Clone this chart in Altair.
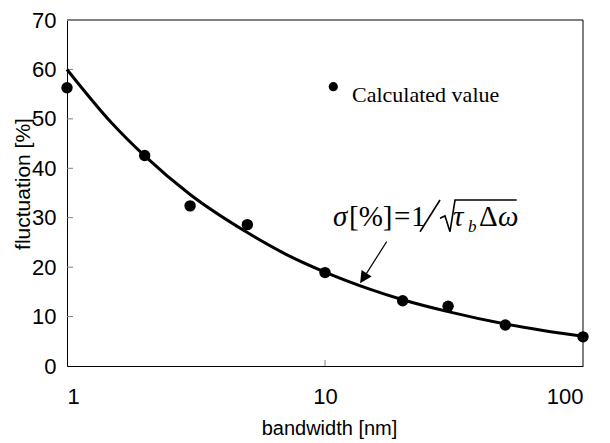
import altair as alt
import pandas as pd

# ---- data ----
bandwidth = [1, 2, 3, 5, 10, 20, 30, 50, 100]
calculated = [56.3, 42.6, 32.4, 28.6, 18.9, 13.2, 12.1, 8.3, 5.9]

curve_bw = [1, 1.5, 2, 3, 5, 7, 10, 15, 20, 30, 50, 70, 100]
curve_val = [60.0, 49.0, 42.5, 34.7, 27.0, 22.7, 19.0, 15.5, 13.4, 11.0, 8.5, 7.2, 6.0]

x_tick_values = [1, 10, 100]
y_tick_values = [0, 10, 20, 30, 40, 50, 60, 70]
inner_y_ticks = [10, 20, 30, 40, 50, 60]
inner_x_ticks = [10]

legend_label = "Calculated value"

W, H = 516, 346
xscale = alt.Scale(type="log", domain=[1, 100], nice=False)
yscale = alt.Scale(domain=[0, 70], nice=False)


def X(field="bw"):
    return alt.X(f"{field}:Q", scale=xscale,
                 axis=alt.Axis(values=x_tick_values, format="d", title="bandwidth [nm]",
                               titleX=262, titleY=68, titleBaseline="alphabetic",
                               titleAlign="center", labelPadding=20))


def Y(field="val"):
    return alt.Y(f"{field}:Q", scale=yscale,
                 axis=alt.Axis(values=y_tick_values, title="fluctuation [%]",
                               titleX=-38, titleY=163.5, titleAngle=-90,
                               titleBaseline="alphabetic", titleAlign="center",
                               labelPadding=11))


pts = pd.DataFrame({"bw": bandwidth, "val": calculated})
curve = pd.DataFrame({"bw": curve_bw, "val": curve_val})

line = alt.Chart(curve).mark_line(color="black", strokeWidth=3, interpolate="monotone").encode(
    x=X(), y=Y())
dots = alt.Chart(pts).mark_point(filled=True, color="black", opacity=1, size=130).encode(
    x=X(), y=Y())

# inward ticks
yt = alt.Chart(pd.DataFrame({"val": inner_y_ticks})).mark_rule(color="#808080", strokeWidth=1).encode(
    y=Y(), x=alt.value(0), x2=alt.value(6))
xt = alt.Chart(pd.DataFrame({"bw": inner_x_ticks})).mark_rule(color="#808080", strokeWidth=1).encode(
    x=X(), y=alt.value(H), y2=alt.value(H - 6))

one = pd.DataFrame({"k": [0]})
top_border = alt.Chart(one).mark_rule(color="#808080", strokeWidth=2).encode(
    x=alt.value(0), x2=alt.value(W), y=alt.value(0))
right_border = alt.Chart(one).mark_rule(color="black", strokeWidth=1).encode(
    x=alt.value(W), y=alt.value(0), y2=alt.value(H))

# legend (point + label)
leg_pt = alt.Chart(pd.DataFrame({"bw": [10.77], "val": [56.5]})).mark_point(
    filled=True, color="black", opacity=1, size=85).encode(x=X(), y=Y())
leg_tx = alt.Chart(pd.DataFrame({"bw": [12.73], "val": [53.5], "t": [legend_label]})).mark_text(
    align="left", baseline="alphabetic", font="Liberation Serif", fontSize=22, color="black").encode(
    x=X(), y=Y(), text="t:N")

# arrow
arrow_line = alt.Chart(pd.DataFrame({"bw": [17.34], "val": [25.15], "bw2": [14.08], "val2": [17.74]})).mark_rule(
    color="black", strokeWidth=1.2).encode(x=X(), y=Y(), x2="bw2:Q", y2="val2:Q")
arrow_head = alt.Chart(pd.DataFrame({"bw": [14.08], "val": [17.74]})).mark_point(
    shape="M0,-1L1,1L-1,1Z", filled=True, color="black", opacity=1, angle=213, size=144).encode(
    x=X(), y=Y())

# formula  sigma[%] = 1 / sqrt(tau_b Delta omega)
anchor = pd.DataFrame({"bw": [10.74], "val": [28.32]})
def ftext(s, dx, italic=False, size=29, dy=0):
    return alt.Chart(anchor.assign(t=s)).mark_text(
        align="left", baseline="alphabetic", font="Liberation Serif", fontSize=size,
        fontStyle="italic" if italic else "normal", color="black", dx=dx, dy=dy).encode(
        x=X(), y=Y(), text="t:N")

f_sigma = ftext("σ", 0, italic=True)
f_br = ftext("[%]", 16)
f_eq = ftext("=", 61)
f_one = ftext("1", 78)
f_tau = ftext("τ", 120, italic=True)
f_b = ftext("b", 135, italic=True, size=17, dy=6)
f_delta = ftext("Δ", 146)
f_omega = ftext("ω", 165, italic=True)

strokes = pd.DataFrame({
    "seg": ["slash", "slash", "rad", "rad", "rad", "rad", "rad"],
    "o": [0, 1, 0, 1, 2, 3, 4],
    "bw": [23.35, 27.91, 27.91, 29.18, 30.51, 31.91, 55.34],
    "val": [27.17, 33.58, 29.88, 30.35, 27.17, 33.58, 33.58],
})
f_strokes = alt.Chart(strokes).mark_line(color="black", strokeWidth=1.6).encode(
    x=X(), y=Y(), detail="seg:N", order="o:Q")

chart = alt.layer(
    top_border, right_border, yt, xt, line, dots, leg_pt, leg_tx,
    arrow_line, arrow_head, f_sigma, f_br, f_eq, f_one, f_tau, f_b, f_delta, f_omega, f_strokes
).properties(
    width=W, height=H,
    autosize=alt.AutoSizeParams(type="none"),
    padding={"left": 59, "top": 12, "right": 19, "bottom": 75},
).configure_view(stroke=None).configure_axis(
    grid=False, ticks=False, tickSize=0, domainColor="black", domainWidth=1,
    labelFont="Liberation Sans", labelFontSize=22, labelColor="black",
    titleFont="Liberation Sans", titleFontSize=20, titleFontWeight="normal", titleColor="black",
).configure_axisY(titleFontSize=21)

chart.save("out.html", embed_options={"renderer": "svg", "actions": False})
